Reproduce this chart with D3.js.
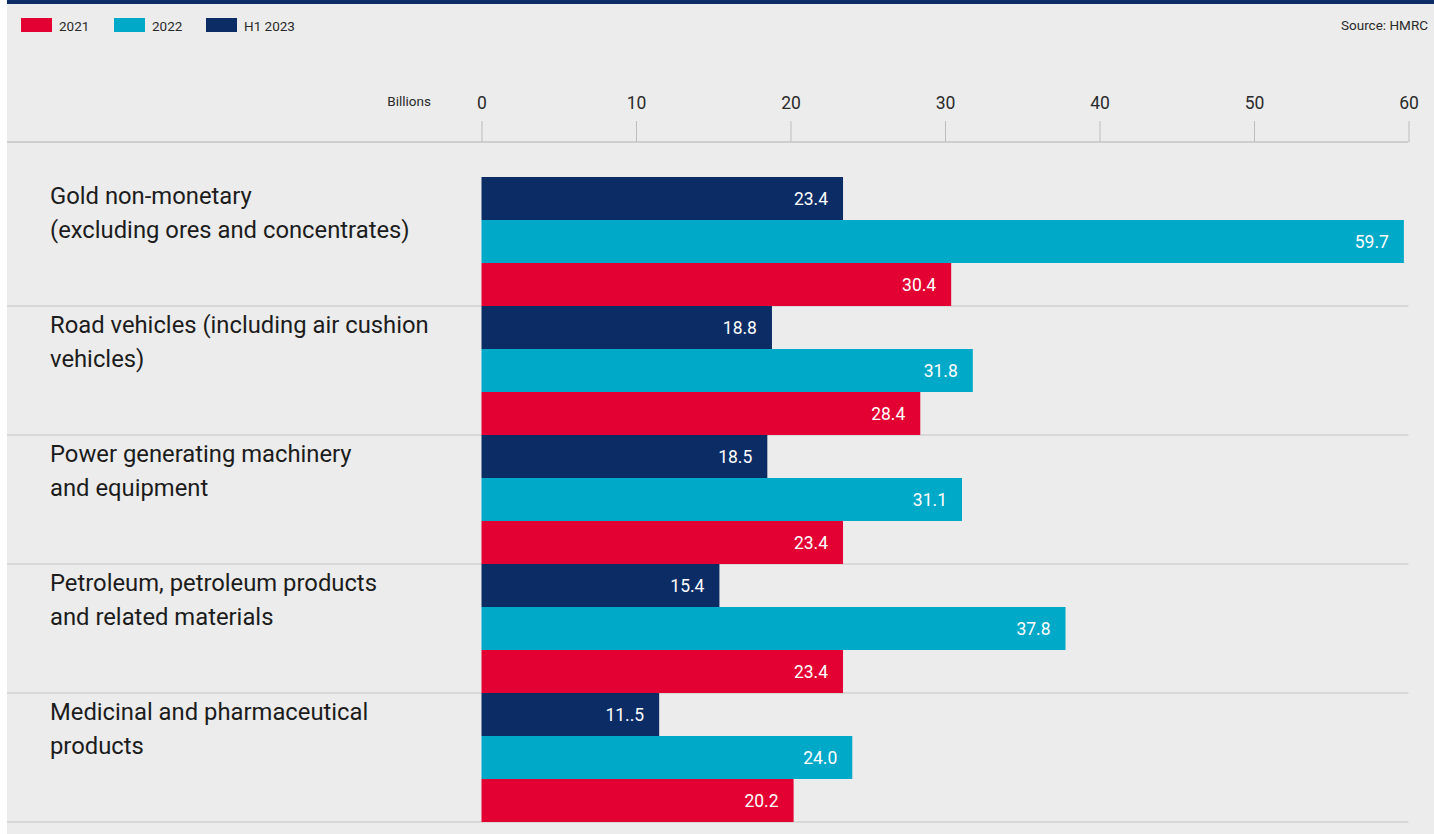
<!DOCTYPE html>
<html>
<head>
<meta charset="utf-8">
<script src="https://cdn.jsdelivr.net/npm/d3@7"></script>
<style>
  html, body { margin: 0; padding: 0; background: #ffffff; }
  svg { display: block; font-family: "Roboto", "Open Sans", sans-serif; }
</style>
</head>
<body>
<svg id="chart" width="1434" height="834"></svg>
<script>
// Top UK exports by commodity, billions
const categories = [
  ["Gold non-monetary", "(excluding ores and concentrates)"],
  ["Road vehicles (including air cushion", "vehicles)"],
  ["Power generating machinery", "and equipment"],
  ["Petroleum, petroleum products", "and related materials"],
  ["Medicinal and pharmaceutical", "products"]
];
const seriesNames = ["2021", "2022", "H1 2023"];
const values2021 = [30.4, 28.4, 23.4, 23.4, 20.2];
const values2022 = [59.7, 31.8, 31.1, 37.8, 24.0];
const valuesH12023 = [23.4, 18.8, 18.5, 15.4, 11.5];
// printed value labels (as published)
const labelsH12023 = ["23.4", "18.8", "18.5", "15.4", "11..5"];
const xTicks = [0, 10, 20, 30, 40, 50, 60];

const colors = { "2021": "#e30033", "2022": "#00a9c7", "H1 2023": "#0c2c66" };

const svg = d3.select("#chart");
const W = 1434, H = 834;

// panel background and top rule
svg.append("rect").attr("x", 7).attr("y", 0).attr("width", W - 7).attr("height", H).attr("fill", "#ececec");
svg.append("rect").attr("x", 7).attr("y", 0).attr("width", W - 7).attr("height", 4).attr("fill", "#0c2c66");

// legend
const legendX = [21, 114, 206];
const legend = svg.append("g");
seriesNames.forEach((s, i) => {
  legend.append("rect").attr("x", legendX[i]).attr("y", 18).attr("width", 31).attr("height", 14).attr("fill", colors[s]);
  legend.append("text").attr("x", legendX[i] + 38).attr("y", 31).attr("font-size", 13.5)
    .attr("fill", "#2a2a2a").text(s);
});
svg.append("text").attr("x", 1428).attr("y", 30).attr("text-anchor", "end")
  .attr("font-size", 13.5).attr("fill", "#2a2a2a").text("Source: HMRC");

// scales
const x = d3.scaleLinear().domain([0, 60]).range([481.5, 1408.5]);
const yGroup = d3.scaleBand().domain(d3.range(categories.length)).range([177, 822]).paddingInner(0);
const ySeries = d3.scaleBand().domain(["H1 2023", "2022", "2021"]).range([0, yGroup.bandwidth()]);

// axis
const axisY = 142;
svg.append("line").attr("x1", 7).attr("x2", x(60)).attr("y1", axisY).attr("y2", axisY)
  .attr("stroke", "#c4c4c4").attr("stroke-width", 1.5);
const axis = d3.axisTop(x).tickValues(xTicks).tickSize(21).tickPadding(12).tickFormat(d3.format("d"));
const axisG = svg.append("g").attr("transform", `translate(0,${axisY})`).call(axis);
axisG.select(".domain").remove();
axisG.selectAll(".tick line").attr("stroke", "#bdbdbd");
axisG.selectAll(".tick text").attr("font-size", 17.5).attr("fill", "#2a2a2a").attr("font-family", "Roboto, sans-serif");
svg.append("text").attr("x", 431).attr("y", 106).attr("text-anchor", "end")
  .attr("font-size", 13.5).attr("fill", "#2a2a2a").text("Billions");

// group separators
categories.forEach((c, i) => {
  const yb = yGroup(i) + yGroup.bandwidth();
  svg.append("line").attr("x1", 7).attr("x2", x(60)).attr("y1", yb).attr("y2", yb)
    .attr("stroke", "#d2d2d2").attr("stroke-width", 1.5);
});

// rows
const rows = categories.map((c, i) => ({
  name: c,
  bars: [
    { s: "H1 2023", v: valuesH12023[i], label: labelsH12023[i] },
    { s: "2022", v: values2022[i], label: values2022[i].toFixed(1) },
    { s: "2021", v: values2021[i], label: values2021[i].toFixed(1) }
  ]
}));

const g = svg.selectAll("g.row").data(rows).join("g").attr("class", "row")
  .attr("transform", (d, i) => `translate(0,${yGroup(i)})`);

g.selectAll("rect.bar").data(d => d.bars).join("rect").attr("class", "bar")
  .attr("x", x(0))
  .attr("y", d => ySeries(d.s))
  .attr("width", d => x(d.v) - x(0))
  .attr("height", ySeries.bandwidth())
  .attr("fill", d => colors[d.s]);

g.selectAll("text.val").data(d => d.bars).join("text").attr("class", "val")
  .attr("x", d => x(d.v) - 15)
  .attr("y", d => ySeries(d.s) + ySeries.bandwidth() / 2 + 6.5)
  .attr("text-anchor", "end")
  .attr("font-size", 17.5)
  .attr("fill", "#ffffff")
  .text(d => d.label);

g.each(function (d) {
  const t = d3.select(this).append("text").attr("x", 50).attr("font-size", 23.8).attr("fill", "#1c1c1c");
  d.name.forEach((line, j) => {
    t.append("tspan").attr("x", 50).attr("y", 27 + j * 34).text(line);
  });
});
</script>
</body>
</html>
